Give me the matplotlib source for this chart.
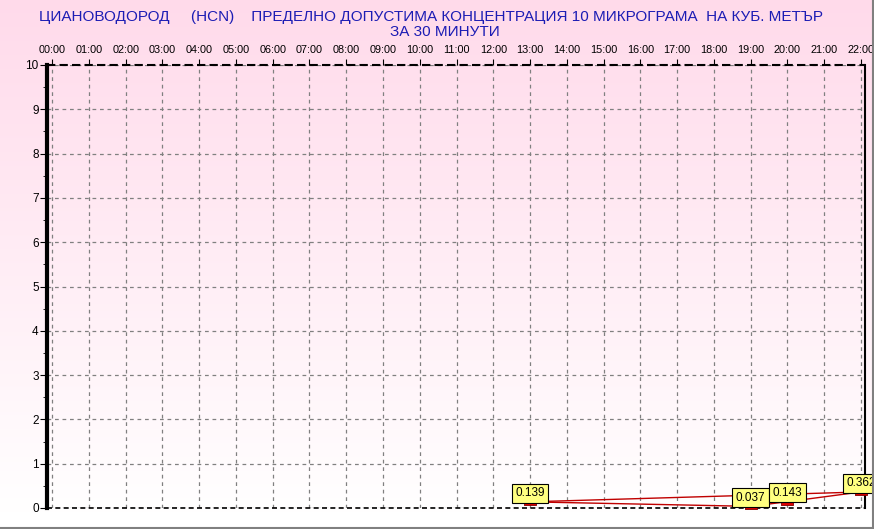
import numpy as np
import matplotlib
matplotlib.use("Agg")
import matplotlib.pyplot as plt
from matplotlib.lines import Line2D
from matplotlib.path import Path

plt.rcParams['font.family'] = ['Liberation Sans', 'DejaVu Sans']

# data
hours = [13, 19, 20, 22]
values = [0.139, 0.037, 0.143, 0.362]
hour_labels = [f"{h:02d}:00" for h in range(23)]
y_ticks = list(range(0, 11))

title_line1 = "ЦИАНОВОДОРОД     (HCN)    ПРЕДЕЛНО ДОПУСТИМА КОНЦЕНТРАЦИЯ 10 МИКРОГРАМА  НА КУБ. МЕТЪР"
title_line2 = "ЗА 30 МИНУТИ"

W, H = 874, 529
fig = plt.figure(figsize=(W / 100, H / 100), dpi=100)

# pink -> white background gradient
bg = fig.add_axes([0, 0, 1, 1], zorder=-10)
top = np.array([1.0, 0.855, 0.92])
grad = np.linspace(0, 1, 256)[:, None]
img = top[None, None, :] * (1 - grad[:, :, None]) + np.ones(3)[None, None, :] * grad[:, :, None]
bg.imshow(img, aspect="auto", extent=[0, 1, 0.03, 1])
bg.set_xlim(0, 1)
bg.set_ylim(0, 1)
bg.axis("off")

left, right, ytop, ybot = 47, 865, 65, 508
ax = fig.add_axes([left / W, 1 - ybot / H, (right - left) / W, (ybot - ytop) / H])
ax.set_facecolor("none")
ax.set_xlim(-0.14, 22.11)
ax.set_ylim(0, 10)

ax.set_xticks(range(23))
ax.set_xticklabels(hour_labels, fontsize=7.8)
ax.xaxis.tick_top()
ax.tick_params(axis="x", direction="out", length=4, pad=3, color="black")
ax.set_yticks(y_ticks)
ax.set_yticklabels([str(v) for v in y_ticks], fontsize=8.5)
ax.set_yticks(np.arange(0.5, 10, 1), minor=True)
ax.tick_params(axis="y", which="major", direction="out", length=5, pad=1)
ax.tick_params(axis="y", which="minor", direction="out", length=3)

ax.grid(True, color="#808080", linestyle=(0, (3, 3)), linewidth=0.9)
ax.spines["left"].set_linewidth(3)
ax.spines["right"].set_linewidth(1.5)
ax.spines["top"].set_visible(False)
ax.spines["bottom"].set_visible(False)
ax.axhline(10, color="black", linestyle=(0, (4, 2)), linewidth=1.5, clip_on=False)
ax.axhline(0, color="black", linestyle=(0, (3, 2)), linewidth=1.2, clip_on=False)

# series line and first-to-last line
ax.plot(hours, values, color="#c00000", linewidth=1.0, zorder=3)
ax.plot([hours[0], hours[-1]], [values[0], values[-1]], color="#c00000", linewidth=1.0, zorder=3)

rect = Path([(-1, -0.6), (1, -0.6), (1, 0.6), (-1, 0.6), (-1, -0.6)])
ax.plot(hours, values, linestyle="none", marker=rect, markersize=8,
        markerfacecolor="#e00000", markeredgecolor="#800000", markeredgewidth=0.6,
        zorder=4, clip_on=False)

for h, v in zip(hours, values):
    ax.annotate(f"{v:.3f}", (h, v), xytext=(0, 2), textcoords="offset points",
                ha="center", va="bottom", fontsize=8.5, zorder=6, annotation_clip=False,
                bbox=dict(boxstyle="square,pad=0.3", facecolor="#ffff80",
                          edgecolor="black", linewidth=0.8))

fig.text(431 / W, 1 - 17 / H, title_line1, color="#1c1cb4", fontsize=11.0,
         ha="center", va="center")
fig.text(445 / W, 1 - 32 / H, title_line2, color="#1c1cb4", fontsize=11.0,
         ha="center", va="center")

# outer frame lines (bottom and right)
fig.add_artist(Line2D([0, 1], [1.5 / H, 1.5 / H], color="#808080", linewidth=1.5))
fig.add_artist(Line2D([1 - 1.5 / W, 1 - 1.5 / W], [0, 1], color="#808080", linewidth=1.5))

fig.savefig("out.png", dpi=100)
